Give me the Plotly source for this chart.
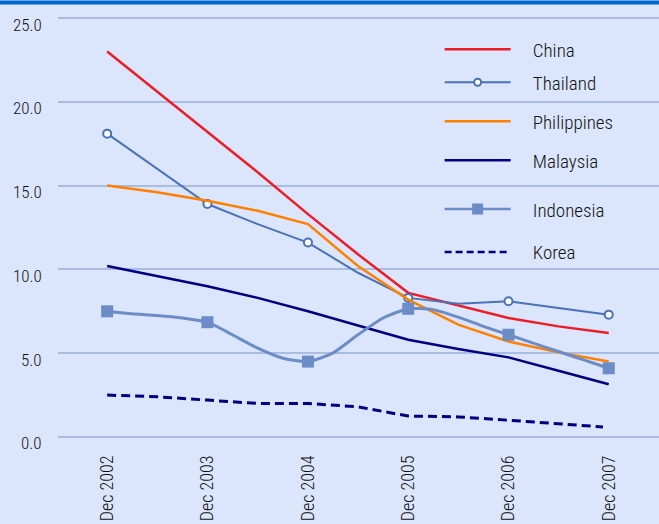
import plotly.graph_objects as go

# Half-yearly observation dates (Dec 2002 .. Dec 2007)
half_years = ["2002-12-01", "2003-06-01", "2003-12-01", "2004-06-01", "2004-12-01",
              "2005-06-01", "2005-12-01", "2006-06-01", "2006-12-01", "2007-06-01",
              "2007-12-01"]
# Quarterly dates used for the Indonesia series
quarters = ["2002-12-01", "2003-03-01", "2003-06-01", "2003-09-01", "2003-12-01",
            "2004-03-01", "2004-06-01", "2004-09-01", "2004-12-01", "2005-03-01",
            "2005-06-01", "2005-09-01", "2005-12-01", "2006-03-01", "2006-06-01",
            "2006-09-01", "2006-12-01", "2007-03-01", "2007-06-01", "2007-09-01",
            "2007-12-01"]
korea_dates = half_years[:-1] + ["2007-11-10"]

china = [23.0, 20.6, 18.2, 15.8, 13.3, 10.9, 8.6, 7.85, 7.1, 6.6, 6.2]
thailand = [18.1, 16.0, 13.9, 12.7, 11.6, 9.8, 8.3, 7.95, 8.1, 7.7, 7.3]
philippines = [15.0, 14.6, 14.1, 13.5, 12.7, 10.2, 8.2, 6.7, 5.7, 5.05, 4.5]
malaysia = [10.2, 9.6, 9.0, 8.3, 7.5, 6.65, 5.8, 5.25, 4.75, 3.95, 3.15]
korea = [2.5, 2.4, 2.2, 2.0, 2.0, 1.8, 1.25, 1.2, 1.0, 0.8, 0.6]
indonesia = [7.5, 7.35, 7.25, 7.1, 6.85, 6.1, 5.3, 4.7, 4.5, 5.0, 6.1, 7.1, 7.65,
             7.6, 7.15, 6.6, 6.1, 5.6, 5.1, 4.6, 4.1]

tick_dates = ["2002-12-01", "2003-12-01", "2004-12-01", "2005-12-01", "2006-12-01", "2007-12-01"]
tick_text = ["Dec 2002", "Dec 2003", "Dec 2004", "Dec 2005", "Dec 2006", "Dec 2007"]
y_ticks = [0, 5, 10, 15, 20, 25]

FONT = "Roboto Condensed, Liberation Sans, sans-serif"
W = 300
BG = "#dbe5fb"
GRID = "#a9bce2"
TXT = "#111111"

C_CHINA, C_THAI, C_PHIL = "#ee1c25", "#4a72b8", "#ff8000"
C_MAL, C_INDO, C_KOR = "#000080", "#6b8cc7", "#000080"

# the value range is padded a hair so the 0 and 25 grid lines stay inside the plot
Y_RANGE = [-0.06, 25.06]
M_L, M_R, M_T, M_B = 58, 0, 16.5, 86
H = 524
plot_h = H - M_T - M_B


def dec_points(dates, values):
    # December observations carry the markers
    pts = [(d, v) for d, v in zip(dates, values) if d.endswith("-12-01")]
    return [p[0] for p in pts], [p[1] for p in pts]


thai_mx, thai_my = dec_points(half_years, thailand)
indo_mx, indo_my = dec_points(quarters, indonesia)

thai_marker = dict(symbol="circle", size=8, color="white", line=dict(color=C_THAI, width=2))
indo_marker = dict(symbol="square", size=12, color=C_INDO)

fig = go.Figure()
# data lines (legend entries are drawn by the keyed entries below)
fig.add_trace(go.Scatter(x=half_years, y=china, mode="lines", showlegend=False,
                         line=dict(color=C_CHINA, width=2.5)))
fig.add_trace(go.Scatter(x=half_years, y=thailand, mode="lines", showlegend=False,
                         line=dict(color=C_THAI, width=2)))
fig.add_trace(go.Scatter(x=thai_mx, y=thai_my, mode="markers", showlegend=False,
                         marker=thai_marker))
fig.add_trace(go.Scatter(x=half_years, y=philippines, mode="lines", showlegend=False,
                         line=dict(color=C_PHIL, width=2.5)))
fig.add_trace(go.Scatter(x=half_years, y=malaysia, mode="lines", showlegend=False,
                         line=dict(color=C_MAL, width=2.5)))
fig.add_trace(go.Scatter(x=quarters, y=indonesia, mode="lines", showlegend=False,
                         line=dict(color=C_INDO, width=3, shape="spline", smoothing=0.6)))
fig.add_trace(go.Scatter(x=indo_mx, y=indo_my, mode="markers", showlegend=False,
                         marker=indo_marker))
fig.add_trace(go.Scatter(x=korea_dates, y=korea, mode="lines", showlegend=False,
                         line=dict(color=C_KOR, width=3, dash="9px,5px")))

# legend keys, each in its own legend box so rows can sit at their own heights
PAD = "\u00a0" * 4
legend_keys = [
    ("China", 49, dict(mode="lines", line=dict(color=C_CHINA, width=2.5))),
    ("Thailand", 82, dict(mode="lines+markers", line=dict(color=C_THAI, width=2),
                          marker=dict(symbol="circle", size=7, color="white",
                                      line=dict(color=C_THAI, width=2)))),
    ("Philippines", 121, dict(mode="lines", line=dict(color=C_PHIL, width=2.5))),
    ("Malaysia", 160, dict(mode="lines", line=dict(color=C_MAL, width=2.5))),
    ("Indonesia", 209, dict(mode="lines+markers", line=dict(color=C_INDO, width=2.5),
                            marker=dict(symbol="square", size=11, color=C_INDO))),
    ("Korea", 252, dict(mode="lines", line=dict(color=C_KOR, width=2.5, dash="7px,4px"))),
]
legend_layouts = {}
for i, (name, row_px, style) in enumerate(legend_keys):
    key = "legend" if i == 0 else f"legend{i + 1}"
    fig.add_trace(go.Scatter(x=[None], y=[None], name=PAD + name, legend=key, **style))
    legend_layouts[key] = dict(
        x=0.635, y=1 - (row_px - M_T) / plot_h, xanchor="left", yanchor="middle",
        bgcolor="rgba(0,0,0,0)", itemwidth=66,
        font=dict(family=FONT, size=19, color=TXT, weight=W))

# value labels sit just below their grid lines
y_labels = [dict(x=0, xref="paper", xanchor="right", xshift=-14, y=v, yref="y",
                 yanchor="middle", yshift=-6.5, text=f"{v:.1f}", showarrow=False,
                 font=dict(family=FONT, size=17, color=TXT, weight=W))
            for v in y_ticks]

fig.update_layout(
    width=659, height=524, autosize=False,
    margin=dict(l=M_L, r=M_R, t=M_T, b=M_B, pad=0, autoexpand=False),
    paper_bgcolor=BG, plot_bgcolor=BG,
    font=dict(family=FONT, size=16, color=TXT, weight=W),
    showlegend=True,
    xaxis=dict(type="date", range=["2002-06-05", "2008-06-01"], tickvals=tick_dates,
               ticktext=tick_text, tickangle=-90, showgrid=False, zeroline=False,
               showline=False, ticks="", ticklabelstandoff=13, automargin=False,
               tickfont=dict(family=FONT, size=18, color=TXT, weight=W)),
    yaxis=dict(range=Y_RANGE, tickvals=y_ticks, showticklabels=False, showgrid=True,
               gridcolor=GRID, gridwidth=1.5, zeroline=False, showline=False, ticks="",
               automargin=False),
    annotations=y_labels,
    shapes=[dict(type="rect", xref="paper", yref="paper",
                 x0=-M_L / 601, x1=1.0, y0=1 + (M_T - 4) / plot_h, y1=1 + M_T / plot_h,
                 fillcolor="#0066cc", line=dict(width=0), layer="above")],
    **legend_layouts,
)

fig.write_html("out.html")
